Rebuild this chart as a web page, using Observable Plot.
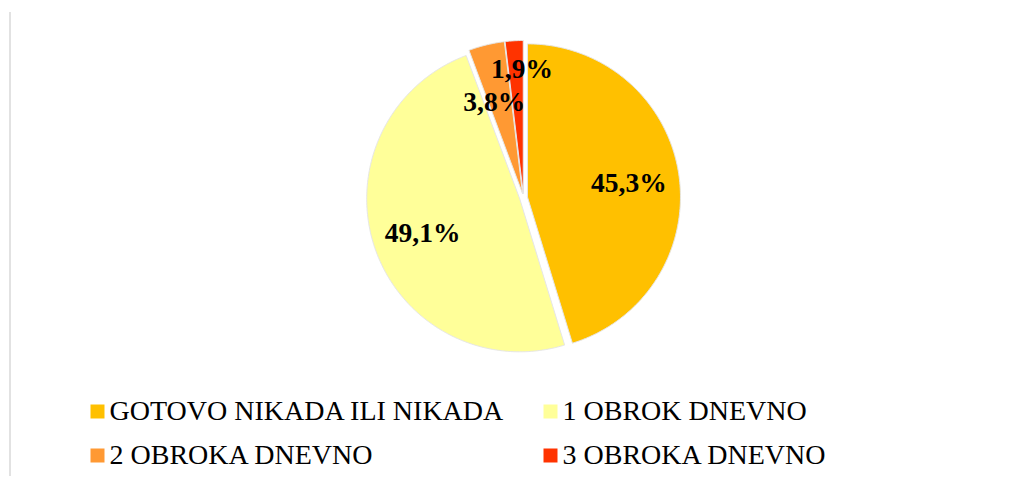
<!DOCTYPE html>
<html>
<head>
<meta charset="utf-8">
<script src="https://cdn.jsdelivr.net/npm/d3@7"></script>
<script src="https://cdn.jsdelivr.net/npm/@observablehq/plot@0.6"></script>
<style>
  html, body { margin: 0; padding: 0; background: #fff; }
  svg text { font-family: "Liberation Serif", "Times New Roman", serif !important; }
</style>
</head>
<body>
<div id="chart"></div>
<script>
// ---- Data ----
const categories = ["GOTOVO NIKADA ILI NIKADA", "1 OBROK DNEVNO", "2 OBROKA DNEVNO", "3 OBROKA DNEVNO"];
const shares = [45.3, 49.1, 3.8, 1.9];
const labels = ["45,3%", "49,1%", "3,8%", "1,9%"];
const colors = ["#FFC000", "#FFFF99", "#FF9933", "#FF3300"];

// ---- Layout ----
const W = 1017, H = 477;
const cx = 523, cy = 197, R = 153, explode = 4;

const pie = d3.pie().sort(null).value(d => d.share);
const arcs = pie(categories.map((c, i) => ({cat: c, share: shares[i], label: labels[i]})));

const pt = (a, r, ox, oy) => ({x: cx + ox + r * Math.sin(a), y: cy + oy - r * Math.cos(a)});

const slicePts = [];
const labelPts = [];
arcs.forEach(a => {
  const mid = (a.startAngle + a.endAngle) / 2;
  const ox = explode * Math.sin(mid), oy = -explode * Math.cos(mid);
  slicePts.push({cat: a.data.cat, ...pt(0, 0, ox, oy)});
  const n = Math.max(4, Math.ceil((a.endAngle - a.startAngle) / 0.01));
  for (let k = 0; k <= n; k++) {
    const ang = a.startAngle + (a.endAngle - a.startAngle) * k / n;
    slicePts.push({cat: a.data.cat, ...pt(ang, R, ox, oy)});
  }
  slicePts.push({cat: a.data.cat, ...pt(0, 0, ox, oy)});
  let frac = 0.67, dAng = 0;
  if (a.data.share < 3) { frac = 0.82; dAng = 0.05; }
  else if (a.data.share < 10) { frac = 0.63; dAng = -0.06; }
  const lp = pt(mid + dAng, R * frac, ox, oy);
  labelPts.push({label: a.data.label, x: lp.x, y: lp.y + 10});
});

// legend entries
const legendCols = [97, 550];
const legendRows = [411, 455];
const legend = categories.map((c, i) => ({
  cat: c,
  x: legendCols[i % 2],
  y: legendRows[Math.floor(i / 2)]
}));

const chart = Plot.plot({
  width: W,
  height: H,
  margin: 0,
  x: {domain: [0, W], range: [0, W], axis: null},
  y: {domain: [0, H], range: [0, H], axis: null},
  color: {domain: categories, range: colors},
  style: {background: "#fff", fontFamily: "'Liberation Serif', 'Times New Roman', serif"},
  marks: [
    Plot.ruleX([9.5], {y1: 12, y2: 476, stroke: "#d9d9d9", strokeWidth: 1.5}),
    Plot.line(slicePts, {x: "x", y: "y", z: "cat", fill: "cat", stroke: "#e6e6e6", strokeWidth: 1, strokeLinejoin: "round", curve: "linear"}),
    Plot.text(labelPts, {x: "x", y: "y", text: "label", fontFamily: "Liberation Serif", fontWeight: "bold", fontSize: 27.5, fill: "#000", lineAnchor: "bottom", textAnchor: "middle"}),
    Plot.dot(legend, {x: "x", y: "y", fill: "cat", symbol: "square", r: 7.9, stroke: null}),
    Plot.text(legend, {x: d => d.x + 12, y: d => d.y + 8, text: "cat", fontFamily: "Liberation Serif", fontSize: 28, fill: "#000", textAnchor: "start", lineAnchor: "bottom"})
  ]
});
document.getElementById("chart").appendChild(chart);
</script>
</body>
</html>
